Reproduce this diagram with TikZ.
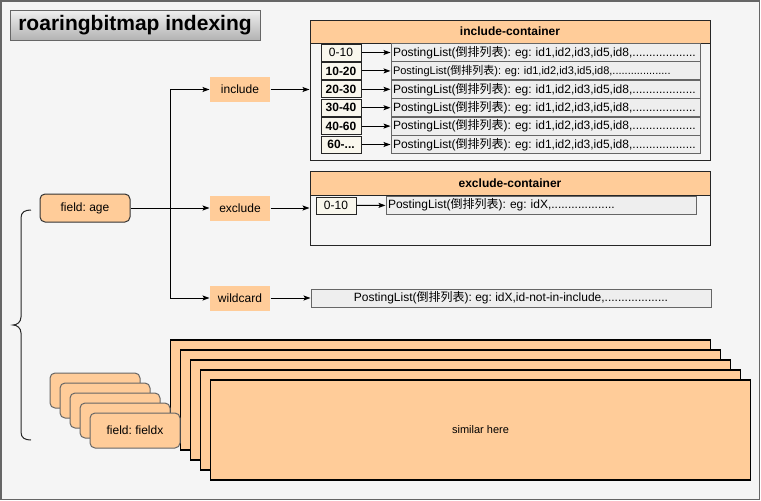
\documentclass[tikz,border=0pt]{standalone}
\usepackage{fontspec}
\setmainfont{Liberation Sans}
\newfontfamily\cjk{Noto Sans CJK SC}
\usepackage{tikz}
\usetikzlibrary{arrows.meta}
\definecolor{peach}{HTML}{FFCC99}
\definecolor{paper}{HTML}{F5F5F5}
\definecolor{frame}{HTML}{666666}
\definecolor{cream}{HTML}{F9F7ED}
\definecolor{listgray}{HTML}{EEEEEE}
\newcommand{\plist}{PostingList({\cjk 倒排列表})}
\frenchspacing

\begin{document}
\begin{tikzpicture}[x=1pt,y=-1pt,line width=1pt,>={Stealth[length=7pt,width=5pt,inset=1.5pt]},
  every node/.style={font=\fontsize{12}{14}\selectfont,inner sep=0pt},
  tag/.style={fill=peach,minimum width=60pt,minimum height=25pt},
  rangebox/.style={draw=black!85,fill=cream,minimum width=40pt,minimum height=17pt},
  postbox/.style={draw=black!60,fill=listgray,minimum height=18pt,inner xsep=2pt,text width=#1,align=left},
  head/.style={draw=black!85,fill=peach,minimum width=400pt,font=\fontsize{12}{14}\selectfont\bfseries},
  sheet/.style={draw=black,line width=1.2pt,fill=peach,minimum width=540pt,minimum height=100pt},
  fieldbox/.style={draw=black!60,fill=peach,rounded corners=5pt,minimum width=90pt,minimum height=35pt}]
\useasboundingbox (0,0) rectangle (761,501);
\draw[fill=paper,draw=frame,line width=1.5pt] (1,1) rectangle (759.5,499.5);
\node[draw=frame,top color=white!94!black,bottom color=black!30,minimum width=250pt,minimum height=30pt,font=\fontsize{21}{25}\selectfont\bfseries] (title) at (135,25) {roaringbitmap indexing};
% include container
\node[draw=black!85,minimum width=400pt,minimum height=140pt] (inc) at (510,90) {};
\node[head,minimum height=23pt] (inchead) at (510,31.5) {include-container};
\node[rangebox] (r1) at (341,52.5) {0-10};
\node[rangebox] (r2) at (341,70.9) {\bfseries 10-20};
\node[rangebox] (r3) at (341,89.3) {\bfseries 20-30};
\node[rangebox] (r4) at (341,107.7) {\bfseries 30-40};
\node[rangebox] (r5) at (341,126.1) {\bfseries 40-60};
\node[rangebox] (r6) at (341,144.5) {\bfseries 60-...};
\node[postbox=305pt] (p1) at (545.5,52.5) {\mbox{\plist: eg: id1,id2,id3,id5,id8,...................}};
\node[postbox=305pt,font=\fontsize{11}{13}\selectfont] (p2) at (545.5,70.9) {\mbox{\plist: eg: id1,id2,id3,id5,id8,...................}};
\node[postbox=305pt] (p3) at (545.5,89.3) {\mbox{\plist: eg: id1,id2,id3,id5,id8,...................}};
\node[postbox=305pt] (p4) at (545.5,107.7) {\mbox{\plist: eg: id1,id2,id3,id5,id8,...................}};
\node[postbox=305pt] (p5) at (545.5,126.1) {\mbox{\plist: eg: id1,id2,id3,id5,id8,...................}};
\node[postbox=305pt] (p6) at (545.5,144.5) {\mbox{\plist: eg: id1,id2,id3,id5,id8,...................}};
\draw[->] (r1)--(p1);
\draw[->] (r2)--(p2);
\draw[->] (r3)--(p3);
\draw[->] (r4)--(p4);
\draw[->] (r5)--(p5);
\draw[->] (r6)--(p6);
% exclude container
\node[draw=black!85,minimum width=400pt,minimum height=74pt] (exc) at (510,208) {};
\node[head,minimum height=24pt] (exchead) at (510,183) {exclude-container};
\node[rangebox] (e1) at (336,205.5) {0-10};
\node[postbox=306pt] (q1) at (541,205) {\mbox{\plist: eg: idX,...................}};
\draw[->] (e1)--(q1);
% wildcard list
\node[draw=black!60,fill=listgray,minimum width=400pt,minimum height=18pt] (w1) at (511,298) {\plist: eg: idX,id-not-in-include,...................};
% field age
\node[draw=black!80,fill=peach,rounded corners=5pt,minimum width=90pt,minimum height=28pt] (age) at (85,208) {field: age};
\node[tag] (incl) at (240,89.5) {include};
\node[tag] (excl) at (240,208) {exclude};
\node[tag] (wild) at (240,298) {wildcard};
\coordinate (split) at (170,208);
\draw[->] (age)--(excl);
\draw[->] (split)|-(incl);
\draw[->] (split)|-(wild);
\draw[->] (incl)--(incl -| inc.west);
\draw[->] (excl)--(excl -| exc.west);
\draw[->] (wild)--(w1);
% brace
\draw[black!85] (31,210) .. controls (25,210) and (21,212) .. (21,218) -- (21,317) .. controls (21,322) and (17,325) .. (13,325) .. controls (17,325) and (21,328) .. (21,333) -- (21,432) .. controls (21,438) and (25,440) .. (31,440);
% other fields
\foreach \i in {0,...,3}
  \node[sheet] (s\i) at (440.5+10*\i,390+10*\i) {};
\node[sheet,font=\fontsize{11}{13}\selectfont] (s4) at (480.5,430) {similar here};
\foreach \i in {0,...,3}
  \node[fieldbox] (f\i) at (95+10*\i,390.5+10*\i) {};
\node[fieldbox] (fieldx) at (135,430.5) {field: fieldx};
\end{tikzpicture}
\end{document}
